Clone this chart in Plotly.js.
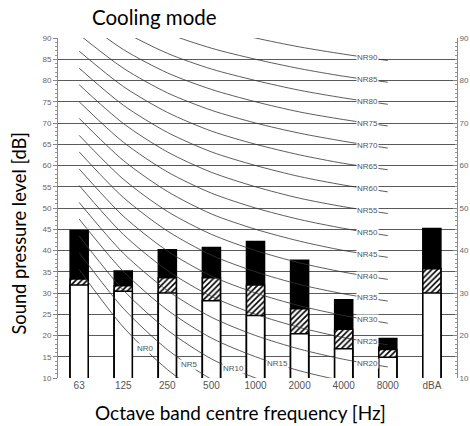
<!DOCTYPE html>
<html>
<head>
<meta charset="utf-8">
<script src="https://cdn.plot.ly/plotly-3.0.1.min.js"></script>
<style>html,body{margin:0;padding:0;background:#fff}#chart{width:470px;height:426px}</style>
</head>
<body>
<div id="chart"></div>
<script>
// Categories (octave bands + overall dBA)
const categories = ['63','125','250','500','1000','2000','4000','8000','dBA'];
const octaveBands = ['63','125','250','500','1000','2000','4000','8000'];

// Bar tops [dB]
const whiteTop = [31.9, 30.4, 30.0, 28.2, 24.7, 20.4, 16.9, 14.9, 30.0];
const hatchTop = [33.3, 31.7, 33.6, 33.6, 31.9, 26.3, 21.5, 16.7, 35.7];
const blackTop = [44.7, 35.2, 40.2, 40.7, 42.1, 37.7, 28.4, 19.3, 45.2];

// NR curves (levels at 63..8000 Hz)
const nr0  = [35.5, 22.0, 12.0,  4.8,  0.0, -3.5, -6.1, -8.0];
const nr5  = [39.5, 26.4, 16.7,  9.7,  5.0,  1.6, -1.0, -2.9];
const nr10 = [43.4, 30.7, 21.3, 14.5, 10.0,  6.7,  4.2,  2.3];
const nr15 = [47.4, 35.1, 26.0, 19.4, 15.0, 11.7,  9.3,  7.5];
const nr20 = [51.3, 39.4, 30.6, 24.3, 20.0, 16.8, 14.4, 12.6];
const nr25 = [55.3, 43.8, 35.3, 29.2, 25.0, 21.9, 19.5, 17.8];
const nr30 = [59.2, 48.1, 39.9, 34.0, 30.0, 27.0, 24.7, 22.9];
const nr35 = [63.2, 52.5, 44.6, 38.9, 35.0, 32.0, 29.8, 28.1];
const nr40 = [67.1, 56.8, 49.2, 43.8, 40.0, 37.1, 34.9, 33.2];
const nr45 = [71.1, 61.2, 53.9, 48.6, 45.0, 42.2, 40.0, 38.4];
const nr50 = [75.0, 65.5, 58.5, 53.5, 50.0, 47.3, 45.2, 43.5];
const nr55 = [79.0, 69.9, 63.2, 58.4, 55.0, 52.3, 50.3, 48.7];
const nr60 = [82.9, 74.2, 67.8, 63.2, 60.0, 57.4, 55.4, 53.8];
const nr65 = [86.9, 78.6, 72.5, 68.1, 65.0, 62.5, 60.5, 59.0];
const nr70 = [90.8, 82.9, 77.1, 73.0, 70.0, 67.6, 65.7, 64.1];
const nr75 = [94.8, 87.3, 81.8, 77.9, 75.0, 72.6, 70.8, 69.3];
const nr80 = [98.7, 91.6, 86.4, 82.7, 80.0, 77.7, 75.9, 74.4];
const nr85 = [102.7, 96.0, 91.1, 87.6, 85.0, 82.8, 81.0, 79.6];
const nr90 = [106.6, 100.3, 95.7, 92.5, 90.0, 87.9, 86.2, 84.7];

const nrNames = ['NR0','NR5','NR10','NR15','NR20','NR25','NR30','NR35','NR40','NR45','NR50','NR55','NR60','NR65','NR70','NR75','NR80','NR85','NR90'];
const nrCurves = [nr0,nr5,nr10,nr15,nr20,nr25,nr30,nr35,nr40,nr45,nr50,nr55,nr60,nr65,nr70,nr75,nr80,nr85,nr90];
// segment index (between band i and i+1) where each label sits
const nrLabelSeg = [1,2,3,4,6,6,6,6,6,6,6,6,6,6,6,6,6,6,6];

const traces = [];
nrCurves.forEach((c, k) => {
  traces.push({
    type: 'scatter', mode: 'lines', x: octaveBands, y: c,
    line: {color: '#333', width: 0.8, shape: 'spline', smoothing: 0.8},
    hoverinfo: 'skip', showlegend: false
  });
});

const barStyle = {width: 0.41, showlegend: false, hoverinfo: 'skip'};
traces.push(Object.assign({type: 'bar', x: categories, y: blackTop,
  marker: {color: '#000', line: {color: '#000', width: 1.5}, opacity: 1}}, barStyle));
traces.push(Object.assign({type: 'bar', x: categories, y: hatchTop,
  marker: {color: '#fff', line: {color: '#000', width: 1.5}, opacity: 1,
    pattern: {shape: '/', fgcolor: '#000', bgcolor: '#fff', size: 4, solidity: 0.4}}}, barStyle));
traces.push(Object.assign({type: 'bar', x: categories, y: whiteTop,
  marker: {color: '#fff', line: {color: '#000', width: 1.5}, opacity: 1}}, barStyle));

// right-side axis ticks
traces.push({type: 'scatter', x: [categories[0]], y: [null], yaxis: 'y2', showlegend: false, hoverinfo: 'skip'});

const annotations = nrCurves.map((c, k) => {
  const s = nrLabelSeg[k];
  const f = s === 6 ? 0.55 : 0.5;
  return {
    x: s + f, y: c[s] + (c[s + 1] - c[s]) * f, xref: 'x', yref: 'y',
    text: nrNames[k], showarrow: false, bgcolor: '#fff', borderpad: 0,
    font: {family: 'Liberation Sans, Arial, sans-serif', size: 8, color: '#555'}
  };
});

// axis titles placed like the original
annotations.push({
  text: 'Octave band centre frequency [Hz]', xref: 'paper', yref: 'paper',
  x: (240 - 58) / 399, y: (378 - 412) / 340, xanchor: 'center', yanchor: 'middle',
  showarrow: false, font: {family: 'Lato, Carlito, sans-serif', size: 19, color: '#000'}
});
annotations.push({
  text: 'Sound pressure level [dB]', xref: 'paper', yref: 'paper', textangle: -90,
  x: (18.5 - 58) / 399, y: (378 - 234) / 340, xanchor: 'center', yanchor: 'middle',
  showarrow: false, font: {family: 'Lato, Carlito, sans-serif', size: 18.3, color: '#000'}
});

const layout = {
  width: 470, height: 426,
  margin: {l: 58, r: 13, t: 38, b: 48},
  paper_bgcolor: '#fff', plot_bgcolor: '#fff',
  barmode: 'overlay', bargap: 0,
  title: {text: 'Cooling mode', x: 92 / 470, xanchor: 'left', xref: 'container',
    y: 1 - 18 / 426, yanchor: 'middle', yref: 'container',
    font: {family: 'Lato, Carlito, sans-serif', size: 20.5, color: '#000'}},
  xaxis: {
    type: 'category', range: [-0.48, 8.57], showgrid: false, zeroline: false,
    showline: false, ticks: '', tickfont: {family: 'Liberation Sans, Arial, sans-serif', size: 10, color: '#555'}
  },
  yaxis: {
    range: [10, 90], dtick: 5, tick0: 10, showgrid: true, gridcolor: '#5a5a5a', gridwidth: 1,
    zeroline: false, showline: true, linecolor: '#888', linewidth: 1,
    ticks: 'outside', ticklen: 4, tickcolor: '#888',
    minor: {dtick: 1, ticks: 'outside', ticklen: 2, tickcolor: '#999', showgrid: false},
    tickfont: {family: 'Liberation Sans, Arial, sans-serif', size: 8, color: '#666'}
  },
  yaxis2: {
    overlaying: 'y', side: 'right', range: [10, 90], dtick: 10, tick0: 10, showgrid: false,
    zeroline: false, showline: true, linecolor: '#888', linewidth: 1,
    ticks: 'inside', ticklen: 4, tickcolor: '#888',
    minor: {dtick: 1, ticks: 'inside', ticklen: 2, tickcolor: '#999', showgrid: false},
    tickfont: {family: 'Liberation Sans, Arial, sans-serif', size: 8, color: '#666'}
  },
  annotations: annotations
};

Plotly.newPlot('chart', traces, layout, {displayModeBar: false, staticPlot: true});
</script>
</body>
</html>
